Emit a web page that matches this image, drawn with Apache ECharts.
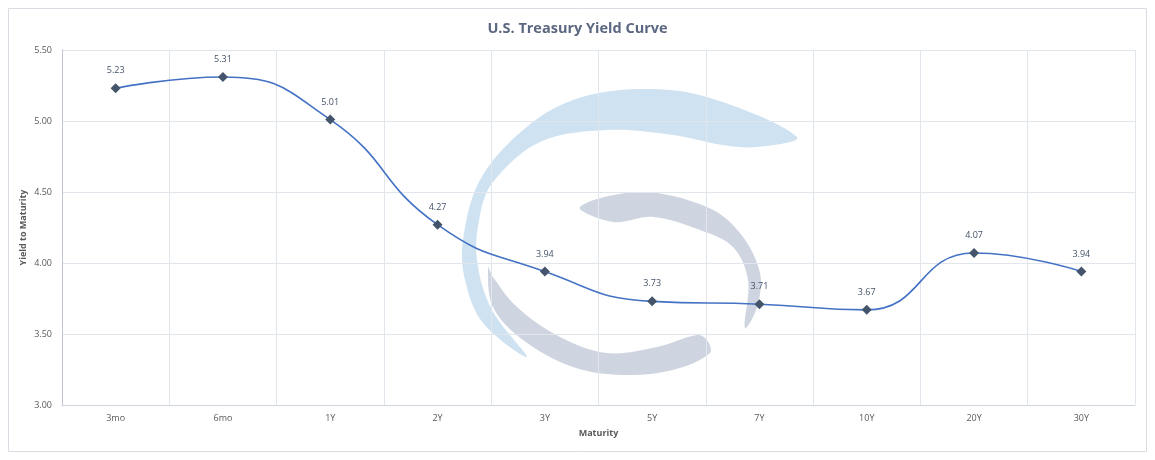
<!DOCTYPE html>
<html>
<head>
<meta charset="utf-8">
<script src="https://cdn.jsdelivr.net/npm/echarts@6/dist/echarts.min.js"></script>
<style>
  html, body { margin: 0; padding: 0; background: #fff; }
  #chart { width: 1155px; height: 460px; }
</style>
</head>
<body>
<div id="chart"></div>
<script>
// maturities and yields
let maturities = ['3mo', '6mo', '1Y', '2Y', '3Y', '5Y', '7Y', '10Y', '20Y', '30Y'];
let yields = [5.23, 5.31, 5.01, 4.27, 3.94, 3.73, 3.71, 3.67, 4.07, 3.94];
let yTicks = { min: 3.0, max: 5.5, step: 0.5 };

const FONT = '"Open Sans", "Liberation Sans", sans-serif';

/**
 * watermark logo behind the plot (decoration only)
 */
function logoShapes(){
    return [{
        type: 'polygon',
        z: -10,
        shape: {
            smooth: 0.35,
            points: [[797,137],[707,97],[640,89],[573,100],[523,130],[480,180],[463,240],[465,280],[483,323],[527,357],
                     [492,310],[477,260],[480,215],[493,182],[540,142],[607,130],[673,135],[723,145],[757,147]]
        },
        style: { fill: '#cfe2f1' }
    }, {
        type: 'polygon',
        z: -10,
        shape: {
            smooth: 0.35,
            points: [[580,207],[640,192],[707,207],[740,233],[760,273],[757,307],[745,328],
                     [748,280],[733,247],[700,230],[653,217],[613,222]]
        },
        style: { fill: '#cfd5e0' }
    }, {
        type: 'polygon',
        z: -10,
        shape: {
            smooth: 0.35,
            points: [[488,267],[493,307],[523,340],[573,367],[623,375],[673,370],[710,353],[707,340],[697,335],
                     [657,347],[607,353],[560,337],[517,307],[493,277]]
        },
        style: { fill: '#cfd5e0' }
    }, {
        // outer chart frame
        type: 'rect',
        z: -20,
        shape: { x: 8.5, y: 8.5, width: 1138, height: 443 },
        style: { fill: 'none', stroke: '#d9dde3', lineWidth: 1 }
    }];
}

let chart = echarts.init(document.getElementById('chart'));
chart.setOption({
    backgroundColor: '#ffffff',
    animation: false,
    textStyle: { fontFamily: FONT },
    title: {
        text: 'U.S. Treasury Yield Curve',
        left: 'center',
        top: 16,
        textStyle: { fontFamily: FONT, fontSize: 14.5, fontWeight: 'bold', color: '#5b6780' }
    },
    graphic: logoShapes(),
    grid: { left: 62, right: 20, top: 50, bottom: 55 },
    xAxis: {
        type: 'category',
        data: maturities,
        boundaryGap: true,
        name: 'Maturity',
        nameLocation: 'middle',
        nameGap: 24,
        nameMoveOverlap: false,
        nameTextStyle: { fontFamily: FONT, fontSize: 9, fontWeight: 'bold', color: '#595959' },
        axisLine: { lineStyle: { color: '#d0d5dd' } },
        axisTick: { show: false },
        axisLabel: { fontFamily: FONT, fontSize: 9, color: '#595959', margin: 9 },
        splitLine: { show: true, lineStyle: { color: '#e1e5ec' } }
    },
    yAxis: {
        type: 'value',
        min: yTicks.min,
        max: yTicks.max,
        interval: yTicks.step,
        name: 'Yield to Maturity',
        nameLocation: 'middle',
        nameGap: 34,
        nameMoveOverlap: false,
        nameTextStyle: { fontFamily: FONT, fontSize: 9, fontWeight: 'bold', color: '#595959' },
        axisLine: { show: true, lineStyle: { color: '#bfc5ce' } },
        axisTick: { show: false },
        axisLabel: {
            fontFamily: FONT, fontSize: 9, color: '#595959', margin: 10,
            formatter: function(v){ return v.toFixed(2); }
        },
        splitLine: { show: true, lineStyle: { color: '#e1e5ec' } }
    },
    series: [{
        name: 'yield',
        type: 'line',
        data: yields,
        smooth: 0.5,
        symbol: 'diamond',
        symbolSize: 10,
        lineStyle: { color: '#4472c4', width: 1.6 },
        itemStyle: { color: '#44546a' },
        label: {
            show: true,
            position: 'top',
            distance: 8,
            fontFamily: FONT,
            fontSize: 9,
            color: '#44546a',
            formatter: function(p){ return p.value.toFixed(2); }
        },
        z: 5
    }]
});
</script>
</body>
</html>
